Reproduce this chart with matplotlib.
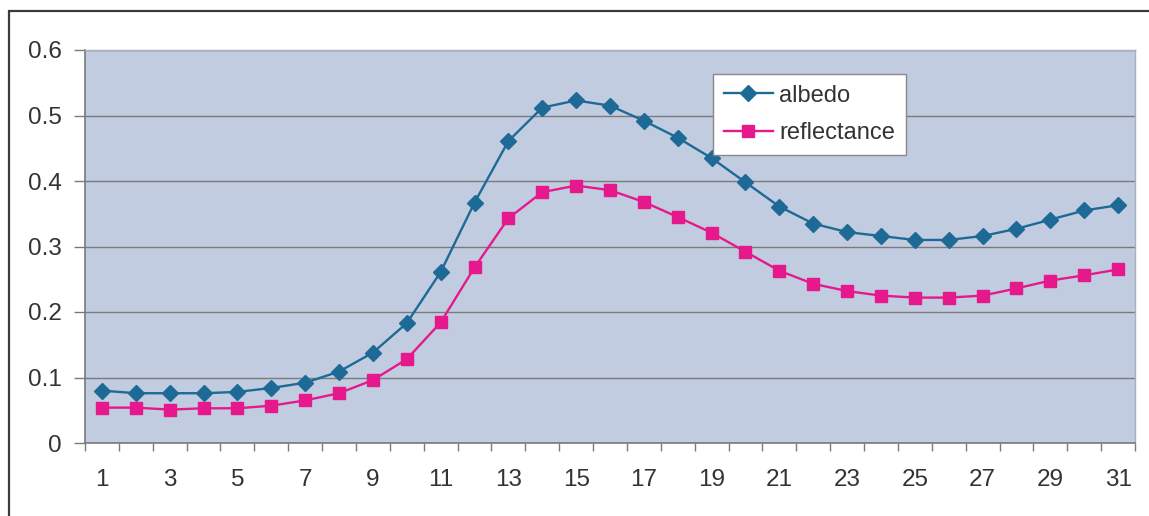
import matplotlib
matplotlib.use("Agg")
import matplotlib.pyplot as plt
from matplotlib.patches import Rectangle

plt.rcParams['font.family'] = ['Liberation Sans', 'DejaVu Sans']

days = list(range(1, 32))
albedo = [0.080, 0.076, 0.076, 0.076, 0.078, 0.084, 0.092, 0.109, 0.138, 0.183,
          0.261, 0.367, 0.461, 0.512, 0.523, 0.515, 0.492, 0.466, 0.435, 0.398,
          0.361, 0.335, 0.322, 0.316, 0.310, 0.310, 0.316, 0.327, 0.341, 0.355,
          0.363]
reflectance = [0.054, 0.054, 0.051, 0.053, 0.053, 0.057, 0.065, 0.076, 0.096, 0.128,
               0.184, 0.268, 0.343, 0.383, 0.393, 0.386, 0.368, 0.345, 0.321, 0.292,
               0.263, 0.243, 0.232, 0.225, 0.222, 0.222, 0.225, 0.236, 0.248, 0.256,
               0.265]
y_ticks = [0, 0.1, 0.2, 0.3, 0.4, 0.5, 0.6]
y_labels = ['0', '0.1', '0.2', '0.3', '0.4', '0.5', '0.6']

W, H = 1149, 516
fig = plt.figure(figsize=(W / 100, H / 100), dpi=100)
fig.patch.set_facecolor('white')

# outer chart frame
fig.patches.append(Rectangle((9 / W, -0.05), 1.2, 1 - 11 / H + 0.05,
                             transform=fig.transFigure, fill=False,
                             edgecolor='#3a3a3a', linewidth=1.6, clip_on=False))

ax = fig.add_axes([85 / W, (H - 443) / H, (1135 - 85) / W, (443 - 50) / H])
ax.set_facecolor('#c2cce0')

ax.plot(days, albedo, color='#1d6a96', linewidth=1.7, marker='D',
        markersize=7.8, label='albedo')
ax.plot(days, reflectance, color='#e6198c', linewidth=1.7, marker='s',
        markersize=8, label='reflectance')

ax.set_xlim(0.5, 31.5)
ax.set_ylim(0, 0.6)
ax.set_yticks(y_ticks)
ax.set_yticklabels(y_labels)
ax.yaxis.grid(True, color='#7a7a7a', linewidth=1.0)
ax.set_axisbelow(True)

ax.set_xticks([d - 0.5 for d in days] + [31.5])
ax.set_xticklabels([])
ax.set_xticks(days[::2], minor=True)
ax.set_xticklabels([str(d) for d in days[::2]], minor=True)
ax.tick_params(axis='x', which='minor', length=0, pad=19, labelsize=17.5,
               labelcolor='#333333')
ax.tick_params(axis='x', which='major', length=6, color='#7a7a7a', width=1)
ax.tick_params(axis='y', length=8, color='#7a7a7a', width=1, labelsize=17.5,
               labelcolor='#333333', pad=9)

for side in ['left', 'bottom']:
    ax.spines[side].set_color('#7a7a7a')
    ax.spines[side].set_linewidth(1.2)
for side in ['top', 'right']:
    ax.spines[side].set_color('#a8b0c0')
    ax.spines[side].set_linewidth(1.0)

leg = ax.legend(loc='upper left', bbox_to_anchor=((713 - 85) / (1135 - 85), 1 - (74 - 50) / 393),
                fontsize=17, frameon=True, fancybox=False, borderpad=0.45,
                labelspacing=0.65, handlelength=2.1, handletextpad=0.25,
                borderaxespad=0)
leg.get_frame().set_edgecolor('#888888')
leg.get_frame().set_facecolor('white')
leg.get_frame().set_alpha(1)
leg.get_frame().set_linewidth(1.0)
for t in leg.get_texts():
    t.set_color('#333333')

fig.savefig('out.png', dpi=100, facecolor='white')
